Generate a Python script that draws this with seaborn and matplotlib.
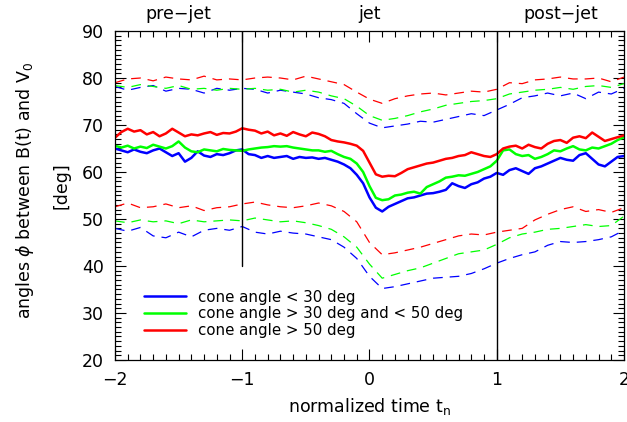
import numpy as np
import pandas as pd
import seaborn as sns
import matplotlib
matplotlib.use("Agg")
import matplotlib.pyplot as plt
from matplotlib.ticker import MultipleLocator

# time axis: solid curves every 0.05, quartile (dashed) curves every 0.1
t_fine = np.round(np.arange(-2.0, 2.0001, 0.05), 2)
t_coarse = np.round(np.arange(-2.0, 2.0001, 0.1), 2)

# medians
red_med = [67.3, 68.5, 69.2, 68.6, 68.9, 68.0, 68.5, 67.6, 68.2, 69.2,
           68.4, 67.6, 68.0, 67.8, 68.2, 68.5, 67.9, 68.3, 68.2, 68.6,
           69.3, 69.0, 68.8, 68.2, 68.6, 67.8, 68.2, 67.7, 68.5, 68.0,
           67.6, 68.4, 68.1, 67.6, 66.8, 66.5, 66.3, 66.0, 65.6, 64.5,
           62.0, 59.5, 59.0, 59.2, 59.1, 59.8, 60.6, 61.0, 61.4, 61.8,
           62.0, 62.4, 62.8, 63.0, 63.4, 63.6, 64.2, 63.8, 63.4, 63.2,
           63.8, 65.0, 65.4, 65.6, 65.0, 65.8, 65.3, 65.0, 66.0, 66.6,
           66.8, 66.2, 67.3, 67.6, 67.2, 68.4, 67.5, 66.6, 67.0, 67.4,
           67.8]
green_med = [65.6, 65.2, 65.6, 65.0, 65.4, 65.1, 65.8, 65.4, 65.0, 65.5,
             66.5, 65.2, 64.4, 64.2, 64.8, 64.6, 64.4, 64.9, 64.7, 64.6,
             64.5, 64.8, 65.0, 65.2, 65.3, 65.5, 65.4, 65.5, 65.2, 65.0,
             64.8, 64.6, 64.6, 64.3, 64.5, 63.8, 63.2, 62.8, 61.8, 60.0,
             57.0, 54.5, 54.0, 54.2, 55.0, 55.2, 55.6, 55.8, 55.4, 56.8,
             57.4, 58.0, 58.8, 59.0, 59.3, 59.2, 59.6, 60.0, 60.6, 61.2,
             62.4, 64.6, 64.8, 63.8, 63.4, 63.6, 62.8, 63.2, 63.8, 64.6,
             64.4, 65.0, 65.5, 64.8, 64.6, 65.2, 65.0, 65.5, 66.0, 66.8,
             67.4]
blue_med = [65.0, 64.6, 64.2, 64.8, 64.3, 64.0, 64.6, 65.0, 64.2, 63.4,
            64.0, 62.2, 63.0, 64.4, 63.5, 63.2, 63.8, 63.6, 64.0, 64.6,
            64.8, 63.8, 63.6, 63.0, 63.4, 63.0, 63.2, 63.4, 62.8, 63.2,
            63.0, 63.1, 62.8, 63.0, 62.6, 62.2, 61.6, 60.8, 59.4, 57.6,
            54.6, 52.4, 51.6, 52.6, 53.2, 53.8, 54.4, 54.6, 55.0, 55.4,
            55.5, 55.8, 56.2, 57.6, 57.0, 56.6, 57.4, 57.8, 58.6, 59.0,
            59.8, 59.4, 60.4, 60.8, 60.2, 59.6, 60.8, 61.2, 61.8, 62.4,
            63.0, 62.6, 62.4, 63.6, 64.0, 62.8, 61.6, 61.2, 62.2, 63.2,
            63.4]

# upper quartiles
red_up = [79.0, 79.8, 80.0, 79.4, 80.2, 79.8, 79.6, 80.4, 79.6, 79.8,
          79.6, 80.0, 80.2, 80.0, 79.6, 80.4, 79.8, 79.2, 78.6, 77.0,
          75.5, 74.6, 75.6, 76.2, 76.6, 76.8, 76.4, 76.8, 77.2, 77.0,
          77.6, 79.0, 78.8, 79.6, 79.8, 80.2, 79.8, 79.8, 80.0, 79.2,
          80.2]
green_up = [78.4, 78.0, 78.6, 78.2, 77.8, 78.4, 77.6, 77.8, 77.4, 77.8,
            77.6, 77.8, 77.4, 77.6, 77.0, 77.4, 77.0, 76.2, 75.6, 74.0,
            72.0, 71.0, 71.4, 72.0, 72.8, 73.4, 74.2, 74.6, 75.0, 75.2,
            75.6, 76.6, 77.0, 77.4, 77.6, 78.0, 77.6, 78.2, 78.4, 78.0,
            78.8]
blue_up = [78.2, 77.4, 78.0, 78.4, 77.2, 77.8, 77.6, 76.8, 77.8, 77.4,
           77.8, 77.6, 76.8, 77.4, 77.0, 76.6, 75.8, 75.4, 74.6, 72.4,
           70.4, 69.4, 69.8, 70.2, 70.8, 70.6, 71.2, 71.8, 72.4, 72.0,
           73.2, 74.4, 75.8, 76.2, 76.8, 76.2, 76.8, 75.6, 77.0, 76.6,
           77.8]

# lower quartiles
red_lo = [52.6, 53.4, 52.4, 52.6, 53.2, 52.4, 52.8, 51.8, 52.4, 52.6,
          53.2, 53.6, 53.0, 52.6, 52.4, 52.8, 53.4, 52.8, 51.6, 49.4,
          45.0, 42.4, 42.8, 43.4, 44.0, 44.8, 45.6, 46.4, 46.8, 46.6,
          47.2, 47.6, 48.0, 49.8, 51.0, 52.0, 52.6, 51.6, 52.0, 51.4,
          52.4]
green_lo = [49.6, 49.2, 49.8, 49.4, 49.6, 49.0, 49.8, 49.4, 49.6, 49.8,
            49.6, 50.2, 49.8, 49.4, 49.6, 49.2, 48.6, 47.8, 46.2, 44.0,
            40.4, 37.4, 38.2, 39.0, 39.6, 40.6, 41.6, 42.6, 43.0, 43.4,
            44.6, 46.0, 46.8, 47.2, 47.8, 48.0, 48.4, 48.8, 48.4, 48.6,
            50.6]
blue_lo = [48.0, 47.4, 48.2, 46.4, 46.0, 47.2, 46.2, 47.6, 48.0, 47.6,
           48.4, 47.2, 46.8, 47.4, 47.0, 46.8, 46.2, 45.6, 44.0, 41.6,
           37.8, 35.2, 35.6, 36.2, 36.8, 37.4, 37.6, 37.8, 38.4, 39.4,
           40.6, 41.6, 42.4, 43.0, 44.4, 45.2, 45.0, 45.2, 45.6, 46.2,
           47.6]

labels = ["cone angle < 30 deg",
          "cone angle > 30 deg and < 50 deg",
          "cone angle > 50 deg"]
phase_names = ["pre\u2212jet", "jet", "post\u2212jet"]
phase_pos = [-1.5, 0.0, 1.5]

sns.set_style("ticks")
plt.rcParams["font.family"] = ["DejaVu Sans"]
plt.rcParams["lines.scale_dashes"] = False
plt.rcParams["text.color"] = "black"
plt.rcParams["axes.labelcolor"] = "black"
plt.rcParams["xtick.labelcolor"] = "black"
plt.rcParams["ytick.labelcolor"] = "black"

fig = plt.figure(figsize=(6.27, 4.22), dpi=100)
ax = fig.add_axes([0.1834, 0.147, 0.8118, 0.7795])

groups = [("#0000ff", blue_med, blue_up, blue_lo),
          ("#00ff00", green_med, green_up, green_lo),
          ("#ff0000", red_med, red_up, red_lo)]

for (col, med, up, lo), lab in zip(groups, labels):
    sns.lineplot(x=t_fine, y=med, color=col, lw=1.8, ax=ax, label=lab)
    sns.lineplot(x=t_coarse, y=up, color=col, lw=0.9, ls=(0, (7, 5)), ax=ax)
    sns.lineplot(x=t_coarse, y=lo, color=col, lw=0.9, ls=(0, (7, 5)), ax=ax)

# phase boundaries
ax.plot([-1, -1], [40, 90], color="black", lw=1)
ax.plot([1, 1], [20, 90], color="black", lw=1)

ax.set_xlim(-2, 2)
ax.set_ylim(20, 90)
ax.xaxis.set_major_locator(MultipleLocator(1))
ax.xaxis.set_minor_locator(MultipleLocator(0.1))
ax.yaxis.set_major_locator(MultipleLocator(10))
ax.yaxis.set_minor_locator(MultipleLocator(1))
ax.tick_params(which="both", direction="in", top=True, right=True,
               color="black", labelcolor="black", width=0.8)
ax.tick_params(which="major", length=8, labelsize=12.5, pad=8)
ax.tick_params(which="minor", length=4)
for s in ax.spines.values():
    s.set_color("black")
    s.set_linewidth(0.9)

ax.set_xlabel("normalized time t$_\\mathregular{n}$", fontsize=12.5, labelpad=5)
ax.set_ylabel("")
fig.text(0.04, 0.55, "angles $\\phi$ between B(t) and V$_\\mathregular{0}$",
         rotation=90, ha="center", va="center", fontsize=12.5)
fig.text(0.098, 0.56, "[deg]", rotation=90, ha="center", va="center",
         fontsize=12.5)

for name, xp in zip(phase_names, phase_pos):
    ax.text(xp, 1.025, name, transform=ax.get_xaxis_transform(),
            ha="center", va="bottom", fontsize=12.5)

ax.legend(loc="lower left", bbox_to_anchor=(0.03, 0.025), frameon=False,
          fontsize=10.8, handlelength=2.8, handletextpad=0.8,
          labelspacing=0.12)

fig.savefig("out.png", dpi=100)
